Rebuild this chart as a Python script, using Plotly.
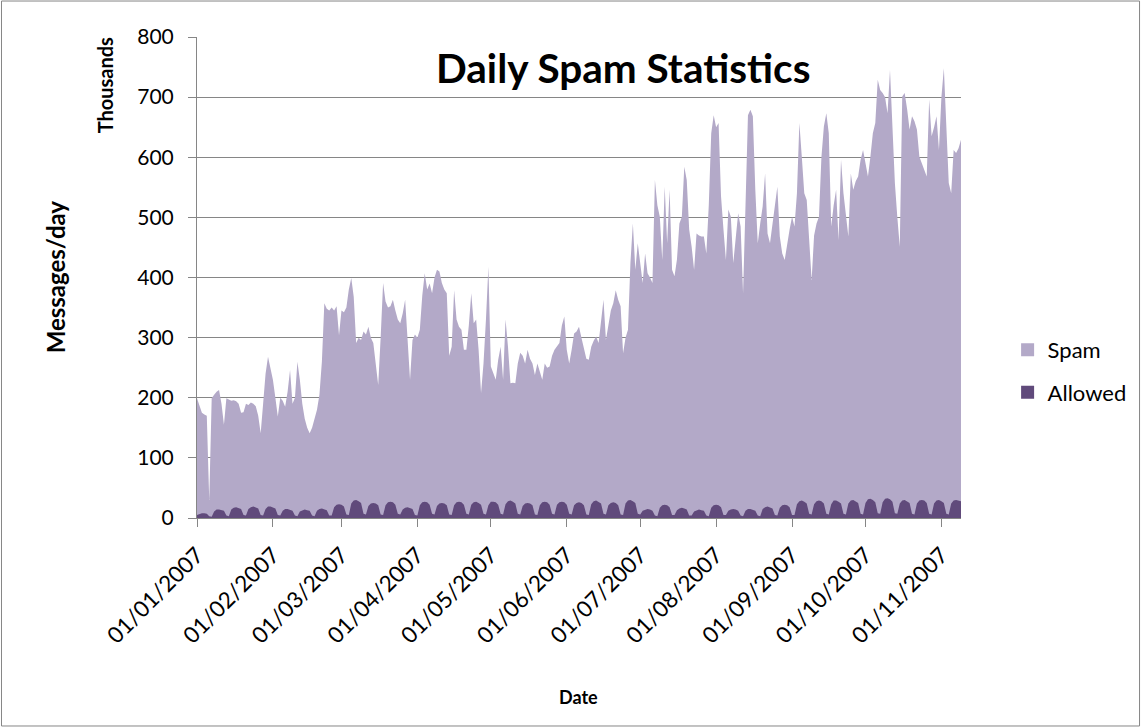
import pandas as pd
import plotly.graph_objects as go

start_date = "2007-01-01"

spam = [
    199,185,175,172,170,30,199,
    205,210,213,190,155,199,197,
    195,196,194,190,175,176,190,
    188,192,190,186,170,141,190,
    240,268,250,230,200,169,200,
    195,185,210,246,190,200,260,
    230,190,165,150,141,150,165,
    180,205,260,357,
    348,345,350,345,352,304,345,
    342,350,380,399,368,291,300,
    296,310,305,318,300,291,260,
    221,300,391,360,350,352,363,
    345,330,324,340,363,300,230,
    296,305,300,313,370,407,380,
    390,374,400,413,410,391,380,
    374,
    270,285,379,330,318,313,280,
    280,320,374,324,330,280,208,
    257,330,418,252,240,230,263,
    285,230,330,285,224,225,224,
    257,275,270,257,280,265,257,
    238,257,245,230,257,250,252,
    270,280,285,291,320,335,280,
    257,280,307,310,318,
    300,280,265,263,285,295,302,
    291,330,363,296,324,345,357,
    379,363,352,274,300,313,424,
    490,413,457,420,391,440,407,
    400,391,562,520,501,429,551,
    457,546,413,402,430,490,501,
    584,562,480,451,413,473,470,
    468,468,440,520,
    640,670,650,657,535,480,429,
    513,501,424,460,507,485,374,
    520,670,679,668,546,457,490,
    518,573,473,457,490,520,551,
    468,440,429,457,480,501,485,
    540,657,600,540,529,468,396,
    470,490,501,600,651,673,640,
    485,520,546,462,
    596,540,501,468,573,546,560,
    568,596,612,590,568,601,640,
    657,729,712,707,700,673,745,
    646,557,500,451,701,707,680,
    646,668,660,646,601,590,580,
    568,696,635,650,668,612,700,
    748,646,557,540,612,607,615,
    629,
]

allowed = [
    5,7,8,8,7,3,2,
    11,14,14,13,12,4,3,
    14,17,18,17,15,5,4,
    15,18,19,18,16,5,4,
    15,19,19,18,16,5,4,
    12,15,15,14,12,4,3,
    11,13,14,13,12,4,3,
    12,15,16,15,13,4,4,
    18,22,23,22,19,6,5,
    24,29,30,28,25,7,6,
    20,24,25,24,21,6,5,
    21,26,27,26,22,7,6,
    14,17,18,17,15,5,4,
    21,26,27,26,22,7,6,
    20,24,25,24,21,6,5,
    21,26,27,26,22,7,6,
    22,26,27,25,22,7,6,
    21,27,27,26,22,7,6,
    23,28,29,27,24,7,6,
    20,24,25,24,21,6,5,
    21,26,27,26,22,7,6,
    22,26,27,26,22,7,6,
    21,25,26,25,21,6,5,
    23,28,29,27,24,7,6,
    21,25,26,25,21,6,5,
    24,29,30,28,25,7,6,
    12,14,15,14,12,4,3,
    17,21,22,21,18,5,5,
    13,16,17,16,14,4,4,
    11,13,14,13,12,4,3,
    17,21,22,21,18,5,5,
    12,14,15,14,12,4,3,
    12,15,15,14,12,4,3,
    15,18,19,18,16,5,4,
    17,21,22,21,18,5,5,
    23,28,29,27,24,7,6,
    23,28,29,28,24,7,6,
    23,29,29,27,24,7,6,
    24,29,30,28,25,7,6,
    25,31,32,30,26,8,7,
    26,32,33,31,27,8,7,
    24,29,30,28,25,7,6,
    24,29,30,29,25,7,6,
    24,29,30,28,25,7,6,
    24,29,30,29,28,
]

tick_dates = ["2007-01-01","2007-02-01","2007-03-01","2007-04-01","2007-05-01","2007-06-01",
              "2007-07-01","2007-08-01","2007-09-01","2007-10-01","2007-11-01"]
tick_labels = ["01/01/2007","01/02/2007","01/03/2007","01/04/2007","01/05/2007","01/06/2007",
               "01/07/2007","01/08/2007","01/09/2007","01/10/2007","01/11/2007"]

dates = pd.date_range(start_date, periods=len(spam), freq="D")

SPAM_C = "#B3A9C8"
ALLOW_C = "#604A7B"
GRID = "#868686"
FONT = "Lato"

fig = go.Figure()
fig.add_trace(go.Scatter(x=dates, y=spam, mode="lines", fill="tozeroy",
                         line=dict(width=0, color=SPAM_C), fillcolor=SPAM_C,
                         showlegend=False, hoverinfo="skip"))
fig.add_trace(go.Scatter(x=dates, y=allowed, mode="lines", fill="tozeroy",
                         line=dict(width=0, color=ALLOW_C), fillcolor=ALLOW_C,
                         showlegend=False, hoverinfo="skip"))
fig.add_trace(go.Scatter(x=[None], y=[None], mode="markers", name="Spam",
                         legendgroup="a",
                         marker=dict(symbol="square", size=13, color=SPAM_C)))
fig.add_trace(go.Scatter(x=[None], y=[None], mode="markers", name="Allowed",
                         legendgroup="b",
                         marker=dict(symbol="square", size=13, color=ALLOW_C)))

fig.update_layout(
    width=1144, height=728,
    margin=dict(l=197, r=181, t=37, b=210),
    paper_bgcolor="white", plot_bgcolor="white",
    font=dict(family=FONT, color="#000000"),
    showlegend=True,
    legend=dict(x=1.061, y=0.393, xanchor="left", yanchor="top",
                font=dict(size=22, family=FONT, color="#000000"),
                traceorder="grouped", tracegroupgap=11,
                bgcolor="rgba(0,0,0,0)"),
    xaxis=dict(range=[dates[0], dates[-1]], type="date",
               tickvals=tick_dates, ticktext=tick_labels, tickangle=-45,
               tickfont=dict(size=22.5, family=FONT, color="#000000"),
               showgrid=False, showline=True, linecolor=GRID, linewidth=1,
               ticks="outside", ticklen=8, tickcolor=GRID, zeroline=False,
               ticklabelstandoff=6),
    yaxis=dict(range=[0, 800], dtick=100, tick0=0,
               tickfont=dict(size=21, family=FONT, color="#000000"),
               showgrid=True, gridcolor=GRID, gridwidth=1,
               showline=True, linecolor=GRID, linewidth=1,
               ticks="outside", ticklen=8, tickcolor=GRID, zeroline=False,
               ticklabelstandoff=10),
    annotations=[
        dict(text="<b>Daily Spam Statistics</b>", x=0.5574, y=0.9356, xref="paper", yref="paper",
             showarrow=False, font=dict(size=40.5, family=FONT, color="#000000"),
             xanchor="center", yanchor="middle"),
        dict(text="<b>Messages/day</b>", x=-0.1854, y=0.501, xref="paper", yref="paper",
             showarrow=False, textangle=-90, font=dict(size=24, family=FONT, color="#000000"),
             xanchor="center", yanchor="middle"),
        dict(text="<b>Thousands</b>", x=-0.1201, y=0.90, xref="paper", yref="paper",
             showarrow=False, textangle=-90, font=dict(size=20, family=FONT, color="#000000"),
             xanchor="center", yanchor="middle"),
        dict(text="<b>Date</b>", x=0.4987, y=-0.372, xref="paper", yref="paper",
             showarrow=False, font=dict(size=18, family=FONT, color="#000000"),
             xanchor="center", yanchor="middle"),
    ],
    shapes=[
        dict(type="rect", xref="paper", yref="paper",
             x0=-0.2559, x1=1.2337, y0=-0.4324, y1=1.0748,
             line=dict(color=GRID, width=1), fillcolor="rgba(0,0,0,0)", layer="below"),
    ],
)

fig.write_html("out.html", config={"displayModeBar": False},
               post_script="document.body.style.margin='0';document.body.style.overflow='hidden';")
